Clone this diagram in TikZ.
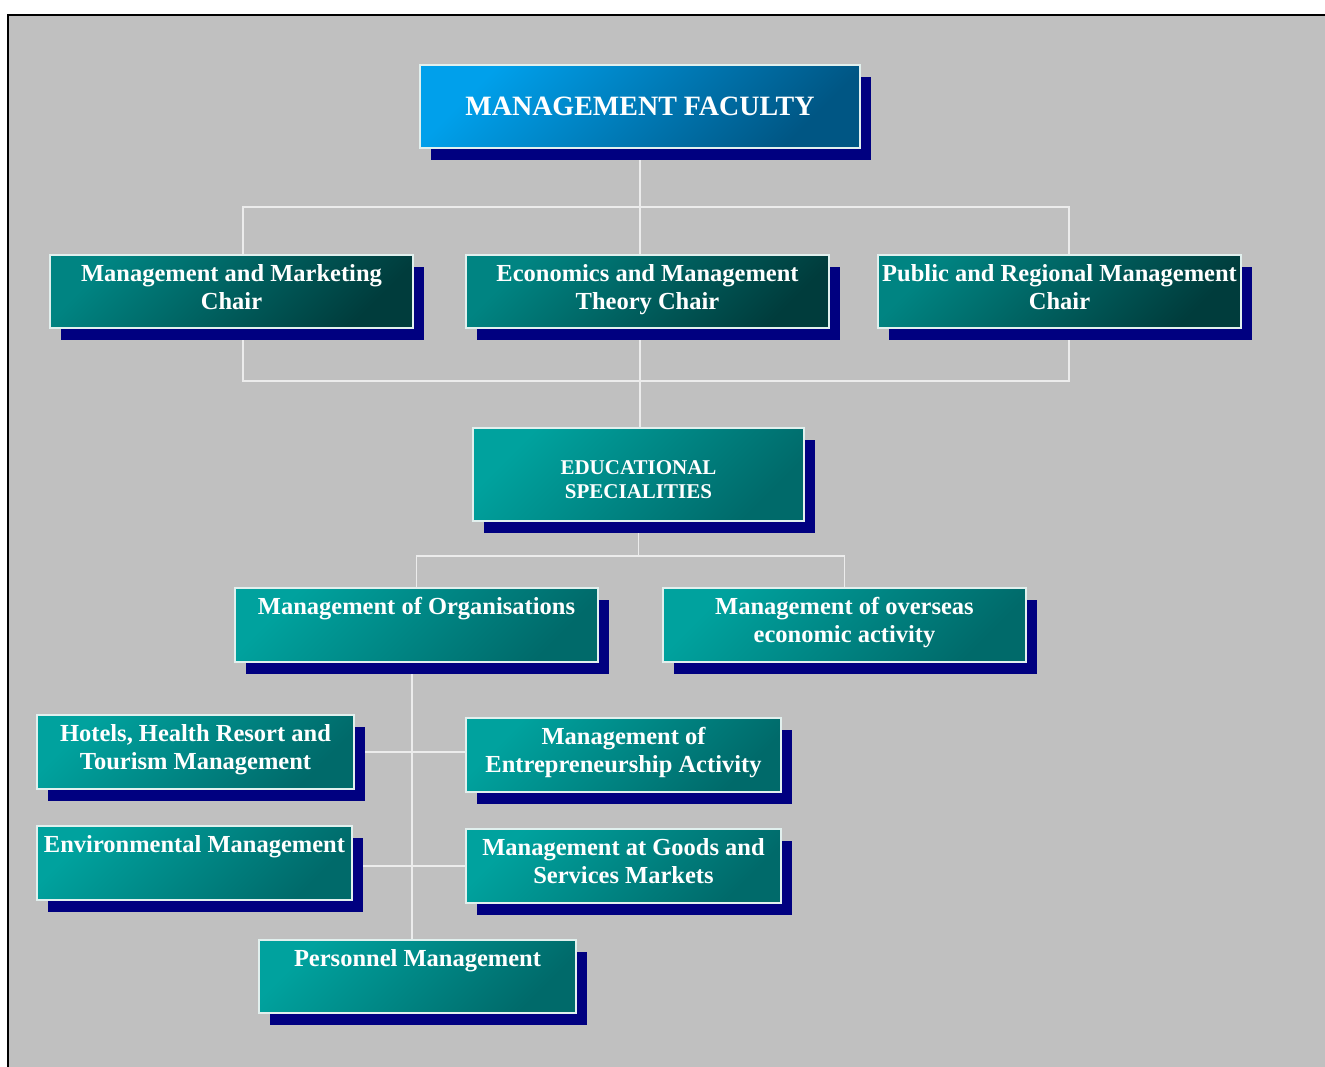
\documentclass[tikz,border=0pt]{standalone}
\usepackage{fontspec}
\setmainfont{Liberation Serif}
\usetikzlibrary{positioning,shadows}
\definecolor{pagegray}{RGB}{192,192,192}
\definecolor{navyshadow}{RGB}{0,0,128}
\definecolor{facultytop}{RGB}{0,160,235}
\definecolor{facultybot}{RGB}{0,86,132}
\definecolor{chairtop}{RGB}{0,132,130}
\definecolor{chairbot}{RGB}{0,60,60}
\definecolor{spectop}{RGB}{0,162,158}
\definecolor{specbot}{RGB}{0,106,106}
\definecolor{rimline}{RGB}{225,240,238}
\definecolor{linkgray}{RGB}{236,236,236}
\pgfdeclarelayer{back}
\pgfdeclarelayer{links}
\pgfsetlayers{back,links,main}
\newcommand{\toptext}[3]{\parbox[c][#2][t]{#1}{\centering\rule{0pt}{13pt}#3}}
\tikzset{
    orgbox/.style={draw=rimline, line width=0.7pt, text=white, inner sep=0pt,
        font=\bfseries\fontsize{12.25pt}{14.25pt}\selectfont,
        drop shadow={shadow xshift=5.5pt, shadow yshift=-6pt, fill=navyshadow, opacity=1}},
    facultybox/.style={orgbox, top color=facultytop, bottom color=facultybot, shading angle=45},
    chairbox/.style={orgbox, top color=chairtop, bottom color=chairbot, shading angle=45},
    specbox/.style={orgbox, top color=spectop, bottom color=specbot, shading angle=45},
    link/.style={draw=linkgray, line width=0.75pt},
}

\begin{document}
\begin{tikzpicture}[x=0.5pt, y=-0.5pt]
	\useasboundingbox (0,0) rectangle (1325,1066);
	% faculty and chairs
	\node[facultybox, minimum width=220pt, minimum height=41.5pt,
		font=\bfseries\fontsize{14pt}{16pt}\selectfont] (mf) at (640,106.5) {MANAGEMENT FACULTY};
	\node[chairbox] (mmc) at (231.5,291.5) {\toptext{181.5pt}{36.5pt}{Management and Marketing\\Chair}};
	\node[chairbox] (emt) at (647.5,291.5) {\toptext{181.5pt}{36.5pt}{Economics and Management\\Theory Chair}};
	\node[chairbox] (prm) at (1059.5,291.5) {\toptext{181.5pt}{36.5pt}{Public and Regional Management\\Chair}};
	% specialities
	\node[specbox, font=\bfseries\fontsize{10.5pt}{12pt}\selectfont] (edu) at (638.5,474.5)
		{\parbox[c][46.5pt][c]{165.5pt}{\centering\vspace*{5pt}EDUCATIONAL\\SPECIALITIES}};
	\node[specbox] (morg) at (416.5,625) {\toptext{181.5pt}{37pt}{Management of Organisations}};
	\node[specbox] (mover) at (844.5,625) {\toptext{181.5pt}{37pt}{Management of overseas\\economic activity}};
	\node[specbox] (hotel) at (195.5,752) {\toptext{158.5pt}{37pt}{Hotels, Health Resort and\\Tourism Management}};
	\node[specbox] (entre) at (623.5,755) {\toptext{157.5pt}{37pt}{Management of\\Entrepreneurship Activity}};
	\node[specbox] (envir) at (194.5,863) {\toptext{157.5pt}{37pt}{Environmental Management}};
	\node[specbox] (goods) at (623.5,866) {\toptext{157.5pt}{37pt}{Management at Goods and\\Services Markets}};
	\node[specbox] (perso) at (417.5,976.5) {\toptext{158.5pt}{36.5pt}{Personnel Management}};

\begin{pgfonlayer}{back}
	\fill[pagegray] (8,15) rectangle (1330,1070);
	\draw[line width=1pt] (8,1070) -- (8,15) -- (1330,15);
\end{pgfonlayer}

\begin{pgfonlayer}{links}
	\coordinate (topbus) at (640,207);
	\coordinate (lowbus) at (640,381);
	\coordinate (edubus) at (640,556);
	\draw[link] (mf.south) -- (mf.south |- edu.north);
	\draw[link] ([xshift=5.75pt]mmc.north) |- (topbus) -| ([xshift=4.75pt]prm.north);
	\draw[link] ([xshift=5.75pt]mmc.south) |- (lowbus) -| ([xshift=4.75pt]prm.south);
	\draw[link] (edu.south) -- (edu.south |- edubus);
	\draw[link] (morg.north) |- (edubus) -| (mover.north);
	\draw[link] ([xshift=-2.25pt]morg.south) -- ([xshift=-2.25pt]morg.south |- perso.north);
	\draw[link] (hotel.east) -- (hotel.east -| entre.west);
	\draw[link] (goods.west -| envir.east) -- (goods.west);
\end{pgfonlayer}
\end{tikzpicture}
\end{document}
